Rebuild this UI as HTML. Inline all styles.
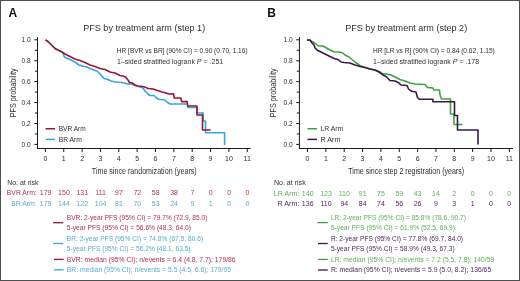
<!DOCTYPE html>
<html><head><meta charset="utf-8"><style>
html,body{margin:0;padding:0;background:#fff;}
body{width:520px;height:281px;overflow:hidden;}
svg{display:block;font-family:"Liberation Sans", sans-serif;will-change:transform;}
</style></head><body>
<svg width="520" height="281" viewBox="0 0 520 281">
<rect x="0.5" y="0.5" width="519" height="280" fill="#fff" stroke="#505050" stroke-width="1"/>
<text x="8.4" y="17.3" font-size="12" fill="#111" font-weight="bold">A</text>
<text x="83.2" y="31.3" font-size="9.6" fill="#303030" textLength="122" lengthAdjust="spacingAndGlyphs">PFS by treatment arm (step 1)</text>
<text x="116.8" y="53" font-size="7" fill="#303030" textLength="130.8" lengthAdjust="spacingAndGlyphs">HR [BVR vs BR] (90% CI) = 0.90 (0.70, 1.16)</text>
<text x="117" y="63.5" font-size="7" fill="#303030" textLength="106.2" lengthAdjust="spacingAndGlyphs">1–sided stratified logrank <tspan font-style="italic">P</tspan> = .251</text>
<line x1="37.5" y1="37" x2="37.5" y2="148.5" stroke="#1a1a1a" stroke-width="1"/>
<line x1="37.0" y1="148.5" x2="250.75000000000003" y2="148.5" stroke="#1a1a1a" stroke-width="1"/>
<line x1="34.3" y1="144.4" x2="37.5" y2="144.4" stroke="#1a1a1a" stroke-width="1"/>
<line x1="34.9" y1="133.94" x2="37.5" y2="133.94" stroke="#1a1a1a" stroke-width="1"/>
<text x="30.8" y="146.9" font-size="7" fill="#303030" text-anchor="end" textLength="9.2" lengthAdjust="spacingAndGlyphs">0.0</text>
<line x1="34.3" y1="123.48" x2="37.5" y2="123.48" stroke="#1a1a1a" stroke-width="1"/>
<line x1="34.9" y1="113.02000000000001" x2="37.5" y2="113.02000000000001" stroke="#1a1a1a" stroke-width="1"/>
<text x="30.8" y="125.98" font-size="7" fill="#303030" text-anchor="end" textLength="9.2" lengthAdjust="spacingAndGlyphs">0.2</text>
<line x1="34.3" y1="102.56" x2="37.5" y2="102.56" stroke="#1a1a1a" stroke-width="1"/>
<line x1="34.9" y1="92.1" x2="37.5" y2="92.1" stroke="#1a1a1a" stroke-width="1"/>
<text x="30.8" y="105.06" font-size="7" fill="#303030" text-anchor="end" textLength="9.2" lengthAdjust="spacingAndGlyphs">0.4</text>
<line x1="34.3" y1="81.64" x2="37.5" y2="81.64" stroke="#1a1a1a" stroke-width="1"/>
<line x1="34.9" y1="71.18" x2="37.5" y2="71.18" stroke="#1a1a1a" stroke-width="1"/>
<text x="30.8" y="84.14" font-size="7" fill="#303030" text-anchor="end" textLength="9.2" lengthAdjust="spacingAndGlyphs">0.6</text>
<line x1="34.3" y1="60.72" x2="37.5" y2="60.72" stroke="#1a1a1a" stroke-width="1"/>
<line x1="34.9" y1="50.26" x2="37.5" y2="50.26" stroke="#1a1a1a" stroke-width="1"/>
<text x="30.8" y="63.22" font-size="7" fill="#303030" text-anchor="end" textLength="9.2" lengthAdjust="spacingAndGlyphs">0.8</text>
<line x1="34.3" y1="39.8" x2="37.5" y2="39.8" stroke="#1a1a1a" stroke-width="1"/>
<text x="30.8" y="42.3" font-size="7" fill="#303030" text-anchor="end" textLength="9.2" lengthAdjust="spacingAndGlyphs">1.0</text>
<line x1="45.4" y1="148.5" x2="45.4" y2="152" stroke="#1a1a1a" stroke-width="1"/>
<text x="45.4" y="161" font-size="7" fill="#303030" text-anchor="middle">0</text>
<line x1="63.75" y1="148.5" x2="63.75" y2="152" stroke="#1a1a1a" stroke-width="1"/>
<text x="63.75" y="161" font-size="7" fill="#303030" text-anchor="middle">1</text>
<line x1="82.1" y1="148.5" x2="82.1" y2="152" stroke="#1a1a1a" stroke-width="1"/>
<text x="82.1" y="161" font-size="7" fill="#303030" text-anchor="middle">2</text>
<line x1="100.45" y1="148.5" x2="100.45" y2="152" stroke="#1a1a1a" stroke-width="1"/>
<text x="100.45" y="161" font-size="7" fill="#303030" text-anchor="middle">3</text>
<line x1="118.80000000000001" y1="148.5" x2="118.80000000000001" y2="152" stroke="#1a1a1a" stroke-width="1"/>
<text x="118.80000000000001" y="161" font-size="7" fill="#303030" text-anchor="middle">4</text>
<line x1="137.15" y1="148.5" x2="137.15" y2="152" stroke="#1a1a1a" stroke-width="1"/>
<text x="137.15" y="161" font-size="7" fill="#303030" text-anchor="middle">5</text>
<line x1="155.5" y1="148.5" x2="155.5" y2="152" stroke="#1a1a1a" stroke-width="1"/>
<text x="155.5" y="161" font-size="7" fill="#303030" text-anchor="middle">6</text>
<line x1="173.85000000000002" y1="148.5" x2="173.85000000000002" y2="152" stroke="#1a1a1a" stroke-width="1"/>
<text x="173.85000000000002" y="161" font-size="7" fill="#303030" text-anchor="middle">7</text>
<line x1="192.20000000000002" y1="148.5" x2="192.20000000000002" y2="152" stroke="#1a1a1a" stroke-width="1"/>
<text x="192.20000000000002" y="161" font-size="7" fill="#303030" text-anchor="middle">8</text>
<line x1="210.55" y1="148.5" x2="210.55" y2="152" stroke="#1a1a1a" stroke-width="1"/>
<text x="210.55" y="161" font-size="7" fill="#303030" text-anchor="middle">9</text>
<line x1="228.9" y1="148.5" x2="228.9" y2="152" stroke="#1a1a1a" stroke-width="1"/>
<text x="228.9" y="161" font-size="7" fill="#303030" text-anchor="middle">10</text>
<line x1="247.25000000000003" y1="148.5" x2="247.25000000000003" y2="152" stroke="#1a1a1a" stroke-width="1"/>
<text x="247.25000000000003" y="161" font-size="7" fill="#303030" text-anchor="middle">11</text>
<text x="91.8" y="173.8" font-size="9.2" fill="#303030" textLength="104.9" lengthAdjust="spacingAndGlyphs">Time since randomization (years)</text>
<text x="0" y="0" font-size="9" fill="#303030" textLength="49" lengthAdjust="spacingAndGlyphs" transform="translate(15.9,117.3) rotate(-90)">PFS probability</text>
<line x1="45.6" y1="128.75" x2="55" y2="128.75" stroke="#9c1535" stroke-width="1.5"/>
<line x1="45.6" y1="139.4" x2="55" y2="139.4" stroke="#35a7dc" stroke-width="1.5"/>
<text x="58.7" y="131.2" font-size="7" fill="#303030" textLength="27" lengthAdjust="spacingAndGlyphs">BVR Arm</text>
<text x="58.7" y="141.7" font-size="7" fill="#303030" textLength="23.2" lengthAdjust="spacingAndGlyphs">BR Arm</text>
<text x="7.2" y="184.6" font-size="7" fill="#303030" textLength="31.3" lengthAdjust="spacingAndGlyphs">No. at risk</text>
<text x="36.7" y="195.2" font-size="7" fill="#b3304f" text-anchor="end" textLength="29.9" lengthAdjust="spacingAndGlyphs">BVR Arm:</text>
<text x="36.7" y="205.8" font-size="7" fill="#5aaad4" text-anchor="end" textLength="25.5" lengthAdjust="spacingAndGlyphs">BR Arm:</text>
<text x="45.6" y="195.2" font-size="7" fill="#b3304f" text-anchor="middle">179</text>
<text x="45.6" y="205.8" font-size="7" fill="#5aaad4" text-anchor="middle">179</text>
<text x="63.95" y="195.2" font-size="7" fill="#b3304f" text-anchor="middle">150</text>
<text x="63.95" y="205.8" font-size="7" fill="#5aaad4" text-anchor="middle">144</text>
<text x="82.30000000000001" y="195.2" font-size="7" fill="#b3304f" text-anchor="middle">131</text>
<text x="82.30000000000001" y="205.8" font-size="7" fill="#5aaad4" text-anchor="middle">122</text>
<text x="100.65" y="195.2" font-size="7" fill="#b3304f" text-anchor="middle">111</text>
<text x="100.65" y="205.8" font-size="7" fill="#5aaad4" text-anchor="middle">104</text>
<text x="119.0" y="195.2" font-size="7" fill="#b3304f" text-anchor="middle">97</text>
<text x="119.0" y="205.8" font-size="7" fill="#5aaad4" text-anchor="middle">81</text>
<text x="137.35" y="195.2" font-size="7" fill="#b3304f" text-anchor="middle">72</text>
<text x="137.35" y="205.8" font-size="7" fill="#5aaad4" text-anchor="middle">70</text>
<text x="155.70000000000002" y="195.2" font-size="7" fill="#b3304f" text-anchor="middle">58</text>
<text x="155.70000000000002" y="205.8" font-size="7" fill="#5aaad4" text-anchor="middle">53</text>
<text x="174.05" y="195.2" font-size="7" fill="#b3304f" text-anchor="middle">38</text>
<text x="174.05" y="205.8" font-size="7" fill="#5aaad4" text-anchor="middle">24</text>
<text x="192.4" y="195.2" font-size="7" fill="#b3304f" text-anchor="middle">7</text>
<text x="192.4" y="205.8" font-size="7" fill="#5aaad4" text-anchor="middle">9</text>
<text x="210.75" y="195.2" font-size="7" fill="#b3304f" text-anchor="middle">0</text>
<text x="210.75" y="205.8" font-size="7" fill="#5aaad4" text-anchor="middle">1</text>
<text x="229.1" y="195.2" font-size="7" fill="#b3304f" text-anchor="middle">0</text>
<text x="229.1" y="205.8" font-size="7" fill="#5aaad4" text-anchor="middle">0</text>
<text x="247.45000000000002" y="195.2" font-size="7" fill="#b3304f" text-anchor="middle">0</text>
<text x="247.45000000000002" y="205.8" font-size="7" fill="#5aaad4" text-anchor="middle">0</text>
<text x="66.8" y="220.0" font-size="7" fill="#b3304f" textLength="140.65" lengthAdjust="spacingAndGlyphs">BVR: 2-year PFS (95% CI) = 79.7% (72.9, 85.0)</text>
<text x="66.8" y="230.4" font-size="7" fill="#b3304f" textLength="124.15" lengthAdjust="spacingAndGlyphs">5-year PFS (95% CI) = 56.6% (48.3, 64.0)</text>
<text x="66.8" y="240.8" font-size="7" fill="#5aaad4" textLength="136.3" lengthAdjust="spacingAndGlyphs">BR: 2-year PFS (95% CI) = 74.8% (67.5, 80.6)</text>
<text x="66.8" y="251.2" font-size="7" fill="#5aaad4" textLength="123.8" lengthAdjust="spacingAndGlyphs">5-year PFS (95% CI) = 56.2% (48.1, 63.5)</text>
<text x="66.8" y="261.7" font-size="7" fill="#b3304f" textLength="168.8" lengthAdjust="spacingAndGlyphs">BVR: median (95% CI); n/events = 6.4 (4.8, 7.7); 179/86</text>
<text x="66.8" y="272.0" font-size="7" fill="#5aaad4" textLength="164.15" lengthAdjust="spacingAndGlyphs">BR: median (95% CI); n/events = 5.5 (4.5, 6.6); 179/95</text>
<line x1="53.1" y1="222.7" x2="63.3" y2="222.7" stroke="#9c1535" stroke-width="1.3"/>
<line x1="53.1" y1="243.5" x2="63.3" y2="243.5" stroke="#35a7dc" stroke-width="1.3"/>
<line x1="54.0" y1="259.4" x2="63.7" y2="259.4" stroke="#9c1535" stroke-width="1.3"/>
<line x1="54.0" y1="269.8" x2="63.7" y2="269.8" stroke="#35a7dc" stroke-width="1.3"/>
<polyline points="45.5,40 48,41.5 53.5,47 55,48.5 62,52 63,53 64,56 65,57.5 70,59.5 75,62 79,65 82,66 87,67 90,68.5 94,70 97,71 98,72 101,75 104,78.5 108,79.5 111,81 115,82 122,82.5 125,83.2 128,84 131,83.8 135,85.5 140,87 143,88 145,91 148,94 150,95.5 154,95.5 156,97.5 158,99 161,99.5 165,100 167,102 170,104 187.5,104 188,107.5 197,107.5 197,113 203.2,113 203.2,121 205.5,121 205.5,132.8 224.6,132.8 224.6,145" fill="none" stroke="#35a7dc" stroke-width="1.6" stroke-linejoin="round"/>
<polyline points="45.5,40 48,41.5 53.5,47 55,48.5 62,52 65,54 70,56.5 75,59 80,60.5 85,62.5 90,65 95,66.5 100,68.5 105,69.5 110,72 115,73 120,75.5 123,76 126,77.5 128,80 129.5,82.5 132,82.8 135,85 138,86 143,86.5 146,87.5 148,88.5 153,89 156,90 159,91 162,92 166,93 169,94 173.5,93.8 174.3,98 180.8,98 181.6,101.6 187.1,101.6 187.6,106 197,106 197,115 202.5,115 202.5,130 210.6,130" fill="none" stroke="#9c1535" stroke-width="1.6" stroke-linejoin="round"/>
<text x="267.3" y="17.3" font-size="12" fill="#111" font-weight="bold">B</text>
<text x="345.2" y="31.3" font-size="9.6" fill="#303030" textLength="122" lengthAdjust="spacingAndGlyphs">PFS by treatment arm (step 2)</text>
<text x="372.9" y="53" font-size="7" fill="#303030" textLength="121.9" lengthAdjust="spacingAndGlyphs">HR [LR vs R] (90% CI) = 0.84 (0.62, 1.15)</text>
<text x="373.1" y="63.5" font-size="7" fill="#303030" textLength="106" lengthAdjust="spacingAndGlyphs">1–sided stratified logrank <tspan font-style="italic">P</tspan> = .178</text>
<line x1="299.4" y1="37" x2="299.4" y2="148.5" stroke="#1a1a1a" stroke-width="1"/>
<line x1="298.9" y1="148.5" x2="512.85" y2="148.5" stroke="#1a1a1a" stroke-width="1"/>
<line x1="296.2" y1="144.4" x2="299.4" y2="144.4" stroke="#1a1a1a" stroke-width="1"/>
<line x1="296.79999999999995" y1="133.94" x2="299.4" y2="133.94" stroke="#1a1a1a" stroke-width="1"/>
<text x="292.7" y="146.9" font-size="7" fill="#303030" text-anchor="end" textLength="9.2" lengthAdjust="spacingAndGlyphs">0.0</text>
<line x1="296.2" y1="123.48" x2="299.4" y2="123.48" stroke="#1a1a1a" stroke-width="1"/>
<line x1="296.79999999999995" y1="113.02000000000001" x2="299.4" y2="113.02000000000001" stroke="#1a1a1a" stroke-width="1"/>
<text x="292.7" y="125.98" font-size="7" fill="#303030" text-anchor="end" textLength="9.2" lengthAdjust="spacingAndGlyphs">0.2</text>
<line x1="296.2" y1="102.56" x2="299.4" y2="102.56" stroke="#1a1a1a" stroke-width="1"/>
<line x1="296.79999999999995" y1="92.1" x2="299.4" y2="92.1" stroke="#1a1a1a" stroke-width="1"/>
<text x="292.7" y="105.06" font-size="7" fill="#303030" text-anchor="end" textLength="9.2" lengthAdjust="spacingAndGlyphs">0.4</text>
<line x1="296.2" y1="81.64" x2="299.4" y2="81.64" stroke="#1a1a1a" stroke-width="1"/>
<line x1="296.79999999999995" y1="71.18" x2="299.4" y2="71.18" stroke="#1a1a1a" stroke-width="1"/>
<text x="292.7" y="84.14" font-size="7" fill="#303030" text-anchor="end" textLength="9.2" lengthAdjust="spacingAndGlyphs">0.6</text>
<line x1="296.2" y1="60.72" x2="299.4" y2="60.72" stroke="#1a1a1a" stroke-width="1"/>
<line x1="296.79999999999995" y1="50.26" x2="299.4" y2="50.26" stroke="#1a1a1a" stroke-width="1"/>
<text x="292.7" y="63.22" font-size="7" fill="#303030" text-anchor="end" textLength="9.2" lengthAdjust="spacingAndGlyphs">0.8</text>
<line x1="296.2" y1="39.8" x2="299.4" y2="39.8" stroke="#1a1a1a" stroke-width="1"/>
<text x="292.7" y="42.3" font-size="7" fill="#303030" text-anchor="end" textLength="9.2" lengthAdjust="spacingAndGlyphs">1.0</text>
<line x1="307.5" y1="148.5" x2="307.5" y2="152" stroke="#1a1a1a" stroke-width="1"/>
<text x="307.5" y="161" font-size="7" fill="#303030" text-anchor="middle">0</text>
<line x1="325.85" y1="148.5" x2="325.85" y2="152" stroke="#1a1a1a" stroke-width="1"/>
<text x="325.85" y="161" font-size="7" fill="#303030" text-anchor="middle">1</text>
<line x1="344.2" y1="148.5" x2="344.2" y2="152" stroke="#1a1a1a" stroke-width="1"/>
<text x="344.2" y="161" font-size="7" fill="#303030" text-anchor="middle">2</text>
<line x1="362.55" y1="148.5" x2="362.55" y2="152" stroke="#1a1a1a" stroke-width="1"/>
<text x="362.55" y="161" font-size="7" fill="#303030" text-anchor="middle">3</text>
<line x1="380.9" y1="148.5" x2="380.9" y2="152" stroke="#1a1a1a" stroke-width="1"/>
<text x="380.9" y="161" font-size="7" fill="#303030" text-anchor="middle">4</text>
<line x1="399.25" y1="148.5" x2="399.25" y2="152" stroke="#1a1a1a" stroke-width="1"/>
<text x="399.25" y="161" font-size="7" fill="#303030" text-anchor="middle">5</text>
<line x1="417.6" y1="148.5" x2="417.6" y2="152" stroke="#1a1a1a" stroke-width="1"/>
<text x="417.6" y="161" font-size="7" fill="#303030" text-anchor="middle">6</text>
<line x1="435.95000000000005" y1="148.5" x2="435.95000000000005" y2="152" stroke="#1a1a1a" stroke-width="1"/>
<text x="435.95000000000005" y="161" font-size="7" fill="#303030" text-anchor="middle">7</text>
<line x1="454.3" y1="148.5" x2="454.3" y2="152" stroke="#1a1a1a" stroke-width="1"/>
<text x="454.3" y="161" font-size="7" fill="#303030" text-anchor="middle">8</text>
<line x1="472.65" y1="148.5" x2="472.65" y2="152" stroke="#1a1a1a" stroke-width="1"/>
<text x="472.65" y="161" font-size="7" fill="#303030" text-anchor="middle">9</text>
<line x1="491.0" y1="148.5" x2="491.0" y2="152" stroke="#1a1a1a" stroke-width="1"/>
<text x="491.0" y="161" font-size="7" fill="#303030" text-anchor="middle">10</text>
<line x1="509.35" y1="148.5" x2="509.35" y2="152" stroke="#1a1a1a" stroke-width="1"/>
<text x="509.35" y="161" font-size="7" fill="#303030" text-anchor="middle">11</text>
<text x="348.3" y="173.8" font-size="9.2" fill="#303030" textLength="115.8" lengthAdjust="spacingAndGlyphs">Time since step 2 registration (years)</text>
<text x="0" y="0" font-size="9" fill="#303030" textLength="49" lengthAdjust="spacingAndGlyphs" transform="translate(275.9,117.3) rotate(-90)">PFS probability</text>
<line x1="307.5" y1="128.75" x2="317" y2="128.75" stroke="#3aa63a" stroke-width="1.5"/>
<line x1="307.5" y1="139.4" x2="317" y2="139.4" stroke="#3a1848" stroke-width="1.5"/>
<text x="320.5" y="131.2" font-size="7" fill="#303030" textLength="22.8" lengthAdjust="spacingAndGlyphs">LR Arm</text>
<text x="320.5" y="141.7" font-size="7" fill="#303030" textLength="19.9" lengthAdjust="spacingAndGlyphs">R Arm</text>
<text x="273.9" y="185.0" font-size="7" fill="#303030" textLength="31.8" lengthAdjust="spacingAndGlyphs">No. at risk</text>
<text x="299.4" y="195.5" font-size="7" fill="#5cb255" text-anchor="end" textLength="25.6" lengthAdjust="spacingAndGlyphs">LR Arm:</text>
<text x="299.4" y="206.0" font-size="7" fill="#4a2d58" text-anchor="end" textLength="21.8" lengthAdjust="spacingAndGlyphs">R Arm:</text>
<text x="307.7" y="195.5" font-size="7" fill="#5cb255" text-anchor="middle">140</text>
<text x="307.7" y="206.0" font-size="7" fill="#4a2d58" text-anchor="middle">136</text>
<text x="326.02" y="195.5" font-size="7" fill="#5cb255" text-anchor="middle">123</text>
<text x="326.02" y="206.0" font-size="7" fill="#4a2d58" text-anchor="middle">110</text>
<text x="344.34" y="195.5" font-size="7" fill="#5cb255" text-anchor="middle">110</text>
<text x="344.34" y="206.0" font-size="7" fill="#4a2d58" text-anchor="middle">94</text>
<text x="362.65999999999997" y="195.5" font-size="7" fill="#5cb255" text-anchor="middle">91</text>
<text x="362.65999999999997" y="206.0" font-size="7" fill="#4a2d58" text-anchor="middle">84</text>
<text x="380.98" y="195.5" font-size="7" fill="#5cb255" text-anchor="middle">75</text>
<text x="380.98" y="206.0" font-size="7" fill="#4a2d58" text-anchor="middle">74</text>
<text x="399.29999999999995" y="195.5" font-size="7" fill="#5cb255" text-anchor="middle">59</text>
<text x="399.29999999999995" y="206.0" font-size="7" fill="#4a2d58" text-anchor="middle">56</text>
<text x="417.62" y="195.5" font-size="7" fill="#5cb255" text-anchor="middle">43</text>
<text x="417.62" y="206.0" font-size="7" fill="#4a2d58" text-anchor="middle">26</text>
<text x="435.94" y="195.5" font-size="7" fill="#5cb255" text-anchor="middle">14</text>
<text x="435.94" y="206.0" font-size="7" fill="#4a2d58" text-anchor="middle">9</text>
<text x="454.26" y="195.5" font-size="7" fill="#5cb255" text-anchor="middle">2</text>
<text x="454.26" y="206.0" font-size="7" fill="#4a2d58" text-anchor="middle">3</text>
<text x="472.58" y="195.5" font-size="7" fill="#5cb255" text-anchor="middle">0</text>
<text x="472.58" y="206.0" font-size="7" fill="#4a2d58" text-anchor="middle">1</text>
<text x="490.9" y="195.5" font-size="7" fill="#5cb255" text-anchor="middle">0</text>
<text x="490.9" y="206.0" font-size="7" fill="#4a2d58" text-anchor="middle">0</text>
<text x="509.22" y="195.5" font-size="7" fill="#5cb255" text-anchor="middle">0</text>
<text x="509.22" y="206.0" font-size="7" fill="#4a2d58" text-anchor="middle">0</text>
<text x="330.9" y="220.0" font-size="7" fill="#5cb255" textLength="135.05" lengthAdjust="spacingAndGlyphs">LR: 2-year PFS (95% CI) = 85.8% (78.6, 90.7)</text>
<text x="330.9" y="230.4" font-size="7" fill="#5cb255" textLength="124.05" lengthAdjust="spacingAndGlyphs">5-year PFS (95% CI) = 61.9% (52.5, 69.9)</text>
<text x="330.9" y="240.8" font-size="7" fill="#4a2d58" textLength="132.2" lengthAdjust="spacingAndGlyphs">R: 2-year PFS (95% CI) = 77.8% (69.7, 84.0)</text>
<text x="330.9" y="251.2" font-size="7" fill="#4a2d58" textLength="123.8" lengthAdjust="spacingAndGlyphs">5-year PFS (95% CI) = 58.9% (49.3, 67.3)</text>
<text x="330.9" y="261.7" font-size="7" fill="#5cb255" textLength="163.4" lengthAdjust="spacingAndGlyphs">LR: median (95% CI); n/events = 7.2 (5.5, 7.8); 140/59</text>
<text x="330.9" y="272.0" font-size="7" fill="#4a2d58" textLength="160.3" lengthAdjust="spacingAndGlyphs">R: median (95% CI); n/events = 5.9 (5.0, 8.2); 136/65</text>
<line x1="317.5" y1="222.6" x2="327.8" y2="222.6" stroke="#3aa63a" stroke-width="1.3"/>
<line x1="318" y1="243.5" x2="327.8" y2="243.5" stroke="#3a1848" stroke-width="1.3"/>
<line x1="318" y1="259.4" x2="327.8" y2="259.4" stroke="#3aa63a" stroke-width="1.3"/>
<line x1="318" y1="270.0" x2="327.8" y2="270.0" stroke="#3a1848" stroke-width="1.3"/>
<polyline points="307,40 310,40.5 313,42 316,44 318.5,46 323,46 326,47.7 330,50 334,51.8 338,52 342,52.5 345,55 349,57 352,59.5 355,62 360,65.5 365,67.5 370,69 375,70 380,72 382,73.5 386,74 391,75 395,77 400,79.5 405,81 410,83 415,84 425,84.5 427.5,87.5 433,88 434,90 439.5,90 440,95 441.5,99 450.5,99 450.5,114 454,114 454,124.5 462.5,124.5" fill="none" stroke="#3aa63a" stroke-width="1.6" stroke-linejoin="round"/>
<polyline points="307,40 310,40 312,43 314,45 315,48 317,50 320,51.5 324,53.5 329,56 334,58.5 338,59.5 341,62 344,62.5 350,63 355,65 360,66.5 365,67.5 370,69 375,70 379,72 382,74 383,75 386,76.5 390,80.5 395,81 399,83 401,85 407,85.5 408.5,89 411,91 413,91.5 416,92 417.5,97.5 419.5,99.3 432.9,99.3 432.9,101.8 454.5,101.8 454.5,115.5 457.5,115.5 457.5,130 478,130 478,144.5" fill="none" stroke="#3a1848" stroke-width="1.6" stroke-linejoin="round"/>
</svg>
</body></html>
